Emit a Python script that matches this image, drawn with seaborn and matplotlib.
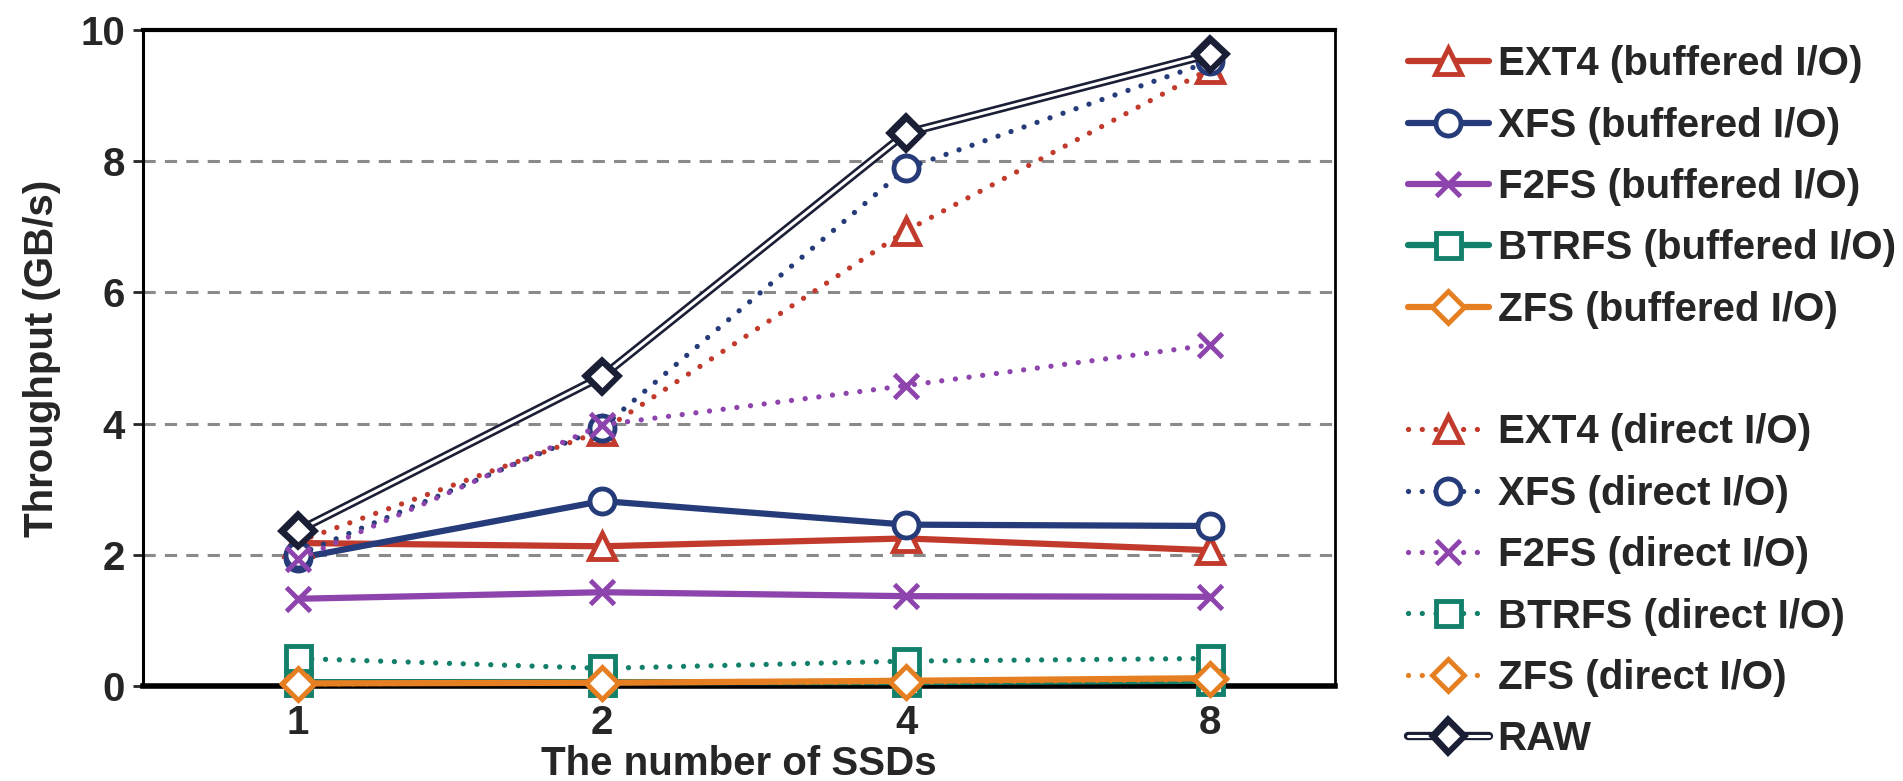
import numpy as np
import pandas as pd
import seaborn as sns
import matplotlib.pyplot as plt
import matplotlib.patheffects as pe
from matplotlib.lines import Line2D

ssds = ["1", "2", "4", "8"]

ext4_buf = [2.18, 2.13, 2.25, 2.07]
xfs_buf = [1.95, 2.82, 2.46, 2.44]
f2fs_buf = [1.33, 1.43, 1.37, 1.36]
btrfs_buf = [0.06, 0.06, 0.06, 0.08]
zfs_buf = [0.04, 0.05, 0.08, 0.12]

ext4_dir = [2.20, 3.89, 6.94, 9.41]
xfs_dir = [2.00, 3.94, 7.89, 9.52]
f2fs_dir = [1.93, 3.98, 4.58, 5.20]
btrfs_dir = [0.42, 0.27, 0.38, 0.42]
zfs_dir = [0.03, 0.05, 0.06, 0.10]

raw = [2.37, 4.72, 8.43, 9.63]

red, navy, purple, green, orange, dark = "#c23a2c", "#263c7a", "#8e44ad", "#12806a", "#e67e22", "#1b1f36"

sns.set_theme(style="white")
plt.rcParams["font.family"] = ["Liberation Sans", "DejaVu Sans"]
plt.rcParams["font.weight"] = "bold"
FS = 29

fig = plt.figure(figsize=(19.03, 7.81), dpi=100)
ax = fig.add_axes([0.0751, 0.1216, 0.6264, 0.84])

series = [
    ("EXT4 (buffered I/O)", ext4_buf, red, "^", "-"),
    ("XFS (buffered I/O)", xfs_buf, navy, "o", "-"),
    ("F2FS (buffered I/O)", f2fs_buf, purple, "x", "-"),
    ("BTRFS (buffered I/O)", btrfs_buf, green, "s", "-"),
    ("ZFS (buffered I/O)", zfs_buf, orange, "D", "-"),
    ("EXT4 (direct I/O)", ext4_dir, red, "^", ":"),
    ("XFS (direct I/O)", xfs_dir, navy, "o", ":"),
    ("F2FS (direct I/O)", f2fs_dir, purple, "x", ":"),
    ("BTRFS (direct I/O)", btrfs_dir, green, "s", ":"),
    ("ZFS (direct I/O)", zfs_dir, orange, "D", ":"),
]

msize = {"^": 19, "o": 18, "x": 17, "s": 18, "D": 16}
handles = []
for i, (name, vals, col, mk, ls) in enumerate(series):
    kw = dict(color=col, marker=mk, markersize=msize[mk], markeredgewidth=3.5,
              markeredgecolor=col, markerfacecolor="white", linewidth=4.5,
              clip_on=False, zorder=3)
    if ls == ":":
        kw.update(linestyle=(0, (0.01, 2.6)), dash_capstyle="round", linewidth=3.8)
    sns.lineplot(x=ssds, y=vals, ax=ax, sort=False, label=name, **kw)
    handles.append(ax.get_lines()[-1])
    if i == 4:
        handles.append(Line2D([], [], color="none", label=" "))

sns.lineplot(x=ssds, y=raw, ax=ax, sort=False, label="RAW", color="white", linewidth=2.2,
             marker="D", markersize=15, markerfacecolor="white", markeredgecolor=dark,
             markeredgewidth=3.5, clip_on=False, zorder=3,
             path_effects=[pe.Stroke(linewidth=6, foreground=dark), pe.Normal()])
handles.append(ax.get_lines()[-1])

ax.set_ylim(0, 10)
ax.set_xlim(-0.51, 3.41)
ax.set_yticks([0, 2, 4, 6, 8, 10])
for y in [2, 4, 6, 8]:
    ax.axhline(y, color="#8a8a8a", linewidth=2.2, linestyle=(0, (4, 3)), zorder=0)

ax.tick_params(axis="y", labelsize=FS, length=7, width=2, direction="out", pad=6, left=True)
ax.tick_params(axis="x", labelsize=FS, length=0, pad=13)
for lab in ax.get_xticklabels() + ax.get_yticklabels():
    lab.set_fontweight("bold")

for s, w in [("left", 2.2), ("right", 2), ("top", 3), ("bottom", 4)]:
    ax.spines[s].set_color("black")
    ax.spines[s].set_linewidth(w)

ax.set_xlabel("The number of SSDs", fontsize=FS, fontweight="bold", labelpad=2)
ax.set_ylabel("Throughput (GB/s)", fontsize=FS, fontweight="bold", labelpad=14)

if ax.legend_:
    ax.legend_.remove()
fig.legend(handles=handles, labels=[h.get_label() for h in handles],
           loc="upper left", bbox_to_anchor=(0.740, 0.942), frameon=False,
           prop={"weight": "bold", "size": FS}, handlelength=2.0,
           handletextpad=0.22, labelspacing=0.58, borderpad=0, borderaxespad=0)

fig.savefig("out.png", dpi=100)
